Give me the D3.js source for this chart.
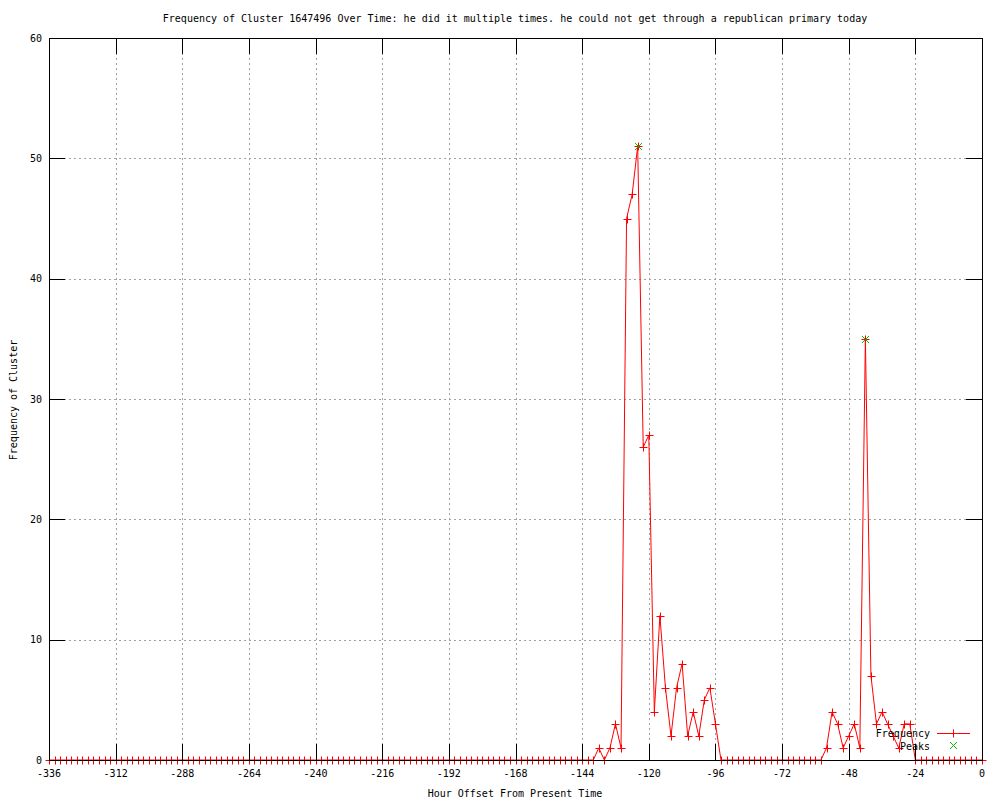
<!DOCTYPE html>
<html>
<head>
<meta charset="utf-8">
<script src="https://cdn.jsdelivr.net/npm/d3@7"></script>
<style>
  html, body { margin: 0; padding: 0; background: #fff; }
  svg { display: block; }
  text { font-family: "DejaVu Sans Mono", monospace; font-size: 10px; fill: #000; }
</style>
</head>
<body>
<svg id="chart" width="1000" height="800"></svg>
<script>
// ---- data ----
const titleText = "Frequency of Cluster 1647496 Over Time: he did it multiple times. he could not get through a republican primary today";
const xLabel = "Hour Offset From Present Time";
const yLabel = "Frequency of Cluster";

const hours = [
  -336,-334,-332,-330,-328,-326,-324,-322,-320,-318,-316,-314,
  -312,-310,-308,-306,-304,-302,-300,-298,-296,-294,-292,-290,
  -288,-286,-284,-282,-280,-278,-276,-274,-272,-270,-268,-266,
  -264,-262,-260,-258,-256,-254,-252,-250,-248,-246,-244,-242,
  -240,-238,-236,-234,-232,-230,-228,-226,-224,-222,-220,-218,
  -216,-214,-212,-210,-208,-206,-204,-202,-200,-198,-196,-194,
  -192,-190,-188,-186,-184,-182,-180,-178,-176,-174,-172,-170,
  -168,-166,-164,-162,-160,-158,-156,-154,-152,-150,-148,-146,
  -144,-142,-140,-138,-136,-134,-132,-130,-128,-126,-124,-122,
  -120,-118,-116,-114,-112,-110,-108,-106,-104,-102,-100,-98,
  -96,-94,-92,-90,-88,-86,-84,-82,-80,-78,-76,-74,
  -72,-70,-68,-66,-64,-62,-60,-58,-56,-54,-52,-50,
  -48,-46,-44,-42,-40,-38,-36,-34,-32,-30,-28,-26,
  -24,-22,-20,-18,-16,-14,-12,-10,-8,-6,-4,-2,
  0
];
const frequency = [
  0,0,0,0,0,0,0,0,0,0,0,0,
  0,0,0,0,0,0,0,0,0,0,0,0,
  0,0,0,0,0,0,0,0,0,0,0,0,
  0,0,0,0,0,0,0,0,0,0,0,0,
  0,0,0,0,0,0,0,0,0,0,0,0,
  0,0,0,0,0,0,0,0,0,0,0,0,
  0,0,0,0,0,0,0,0,0,0,0,0,
  0,0,0,0,0,0,0,0,0,0,0,0,
  0,0,0,1,0,1,3,1,45,47,51,26,
  27,4,12,6,2,6,8,2,4,2,5,6,
  3,0,0,0,0,0,0,0,0,0,0,0,
  0,0,0,0,0,0,0,0,1,4,3,1,
  2,3,1,35,7,3,4,3,2,1,3,3,
  0,0,0,0,0,0,0,0,0,0,0,0,
  0
];
const peakHours = [-124, -42];
const peakValues = [51, 35];

const xTicks = [-336,-312,-288,-264,-240,-216,-192,-168,-144,-120,-96,-72,-48,-24,0];
const yTicks = [0,10,20,30,40,50,60];
const legendLabels = ["Frequency", "Peaks"];

// ---- layout ----
const L = 49, R = 982, T = 38, B = 760;
const svg = d3.select("#chart");

const x = d3.scaleLinear().domain([-336, 0]).range([L, R]);
const y = d3.scaleLinear().domain([0, 60]).range([B, T]);

// grid
const grid = svg.append("g").attr("shape-rendering", "crispEdges");
grid.selectAll("line.vg").data(xTicks.filter(d => d !== -336 && d !== 0)).join("line")
  .attr("x1", d => Math.round(x(d)) + 0.5).attr("x2", d => Math.round(x(d)) + 0.5)
  .attr("y1", T).attr("y2", B)
  .attr("stroke", "#a0a0a0").attr("stroke-dasharray", "2,3");
grid.selectAll("line.hg").data(yTicks.filter(d => d !== 0 && d !== 60)).join("line")
  .attr("y1", d => Math.round(y(d)) + 0.5).attr("y2", d => Math.round(y(d)) + 0.5)
  .attr("x1", L).attr("x2", R)
  .attr("stroke", "#a0a0a0").attr("stroke-dasharray", "2,3");

// data line
const pts = hours.map((h, i) => [h, frequency[i]]);
const line = d3.line().x(d => x(d[0])).y(d => y(d[1]));
svg.append("path").datum(pts)
  .attr("d", line).attr("fill", "none").attr("stroke", "#ff0000").attr("stroke-width", 1);

// plus markers
const plus = (cx, cy, s) => `M${cx - s},${cy}H${cx + s}M${cx},${cy - s}V${cy + s}`;
const cross = (cx, cy, s) => `M${cx - s},${cy - s}L${cx + s},${cy + s}M${cx - s},${cy + s}L${cx + s},${cy - s}`;
svg.append("g").selectAll("path").data(pts).join("path")
  .attr("d", d => plus(Math.round(x(d[0])) + 0.5, Math.round(y(d[1])) + 0.5, 4))
  .attr("fill", "none")
  .attr("stroke", "#ff0000").attr("stroke-width", 1);

// border + ticks
const ax = svg.append("g").attr("shape-rendering", "crispEdges").attr("stroke", "#000").attr("stroke-width", 1);
ax.append("rect").attr("x", L + 0.5).attr("y", T + 0.5).attr("width", R - L).attr("height", B - T).attr("fill", "none");
const tl = 16;
xTicks.forEach(t => {
  const px = Math.round(x(t)) + 0.5;
  ax.append("line").attr("x1", px).attr("x2", px).attr("y1", B).attr("y2", B - tl);
  ax.append("line").attr("x1", px).attr("x2", px).attr("y1", T).attr("y2", T + tl);
});
yTicks.forEach(t => {
  const py = Math.round(y(t)) + 0.5;
  ax.append("line").attr("x1", L).attr("x2", L + tl).attr("y1", py).attr("y2", py);
  ax.append("line").attr("x1", R).attr("x2", R - tl).attr("y1", py).attr("y2", py);
});

// peaks (drawn over)
svg.append("g").selectAll("path").data(peakHours.map((h, i) => [h, peakValues[i]])).join("path")
  .attr("d", d => cross(Math.round(x(d[0])) + 0.5, Math.round(y(d[1])) + 0.5, 3.5))
  .attr("fill", "none")
  .attr("stroke", "#00c000").attr("stroke-width", 1);

// tick labels
svg.append("g").selectAll("text").data(xTicks).join("text")
  .attr("x", d => x(d)).attr("y", 777).attr("text-anchor", "middle").text(d => d);
svg.append("g").selectAll("text").data(yTicks).join("text")
  .attr("x", 42).attr("y", d => y(d) + 3.5).attr("text-anchor", "end").text(d => d);

// titles
svg.append("text").attr("x", 515).attr("y", 22).attr("text-anchor", "middle").text(titleText);
svg.append("text").attr("x", 515).attr("y", 797).attr("text-anchor", "middle").text(xLabel);
svg.append("text").attr("transform", "translate(17,400) rotate(-90)").attr("text-anchor", "middle").text(yLabel);

// legend
const lg = svg.append("g");
lg.append("text").attr("x", 930).attr("y", 737).attr("text-anchor", "end").text(legendLabels[0]);
lg.append("line").attr("x1", 937).attr("x2", 970).attr("y1", 733.5).attr("y2", 733.5)
  .attr("stroke", "#ff0000");
lg.append("line").attr("x1", 953.5).attr("x2", 953.5).attr("y1", 729.5).attr("y2", 737.5)
  .attr("stroke", "#ff0000");
lg.append("text").attr("x", 930).attr("y", 750).attr("text-anchor", "end").text(legendLabels[1]);
lg.append("path").attr("d", cross(953.5, 745.5, 3.5)).attr("fill", "none").attr("stroke", "#00c000");
</script>
</body>
</html>
